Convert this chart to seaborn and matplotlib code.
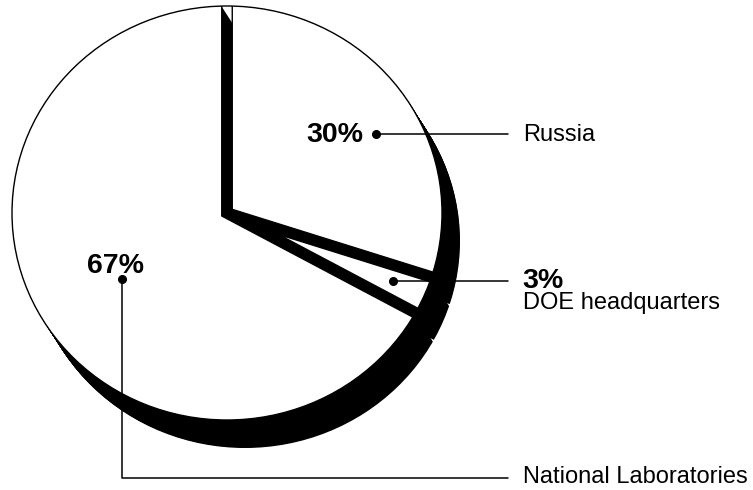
import numpy as np
import matplotlib
matplotlib.use("Agg")
import matplotlib.pyplot as plt
from matplotlib.patches import Circle
import seaborn as sns

sns.set_theme(style="white")
plt.rcParams['font.family'] = ['Liberation Sans', 'DejaVu Sans']

# ---- data ----
categories = ["Russia", "DOE headquarters", "National Laboratories"]
values = [30, 3, 67]
pct_labels = [f"{v}%" for v in values]

# ---- layout (pixel space; y squashed slightly for a tilted pie) ----
W, H = 753, 490
k = 207 / 215          # vertical squash of the pie
fig = plt.figure(figsize=(W / 100, H / 100), dpi=100)
ax = fig.add_axes([0, 0, 1, 1])

def Y(py):
    return (H - py) / k

R = 215
cx, cy = 227, 213
gap = 10.5
total = sum(values)
explode = [(gap / 2) / np.sin(np.pi * v / total) for v in values]
big = R + 80
sdx, sdy = 18, 28      # extrusion (shadow) offset in pixels
# small per-wedge shifts of the extruded body (data units, x right / y up)
body_shift = [(5.5, -0.7), (9.7, -4.2), (-5.5, 1.9)]

# shadow / extrusion
n = len(values)
for t in np.linspace(0, 1, 45):
    c = (cx + t * sdx, Y(cy + t * sdy))
    clip = Circle(c, R, transform=ax.transData)
    for i, (ox, oy) in enumerate(body_shift):
        cols = ['black' if j == i else 'none' for j in range(n)]
        wedges, _ = ax.pie(values, startangle=90, counterclock=False,
                           center=(c[0] + ox, c[1] + oy), radius=big,
                           colors=cols,
                           wedgeprops=dict(linewidth=0, antialiased=True))
        for w in wedges:
            w.set_clip_on(True)
            w.set_clip_path(clip)

# front face
c0 = (cx, Y(cy))
wedges, _ = ax.pie(values, startangle=90, counterclock=False,
                   center=c0, radius=big, explode=explode,
                   colors=['white'] * n,
                   wedgeprops=dict(edgecolor='black', linewidth=1.0))
clip0 = Circle(c0, R, transform=ax.transData)
for w in wedges:
    w.set_clip_on(True)
    w.set_clip_path(clip0)
ax.add_patch(Circle(c0, R, fill=False, edgecolor='black', linewidth=1.0, zorder=2))

ax.set_xlim(0, W)
ax.set_ylim(0, H / k)
ax.set_aspect('auto')
ax.axis('off')

lw = 1.1
ms = 5.5
bold = dict(fontsize=20.5, fontweight='bold', color='black')
reg = dict(fontsize=17, color='black')

# Russia (30%)
ax.plot([376, 508], [Y(134), Y(134)], color='black', lw=lw, zorder=5)
ax.plot([376], [Y(134)], 'o', color='black', ms=ms, zorder=6)
ax.text(363, Y(135), pct_labels[0], ha='right', va='center', **bold, zorder=6)
ax.text(523, Y(135), categories[0], ha='left', va='center', **reg, zorder=6)

# DOE headquarters (3%)
ax.plot([393, 508], [Y(281), Y(281)], color='black', lw=lw, zorder=5)
ax.plot([393], [Y(281)], 'o', color='black', ms=ms, zorder=6)
ax.text(522, Y(288), pct_labels[1], ha='left', va='baseline', **bold, zorder=6)
ax.text(523, Y(303.5), categories[1], ha='left', va='center', **reg, zorder=6)

# National Laboratories (67%)
ax.plot([122, 122, 508], [Y(279), Y(478), Y(478)], color='black', lw=lw, zorder=5)
ax.plot([122], [Y(279)], 'o', color='black', ms=ms, zorder=6)
ax.text(116, Y(273), pct_labels[2], ha='center', va='baseline', **bold, zorder=6)
ax.text(523, Y(477), categories[2], ha='left', va='center', **reg, zorder=6)

fig.savefig("out.png", dpi=100)
